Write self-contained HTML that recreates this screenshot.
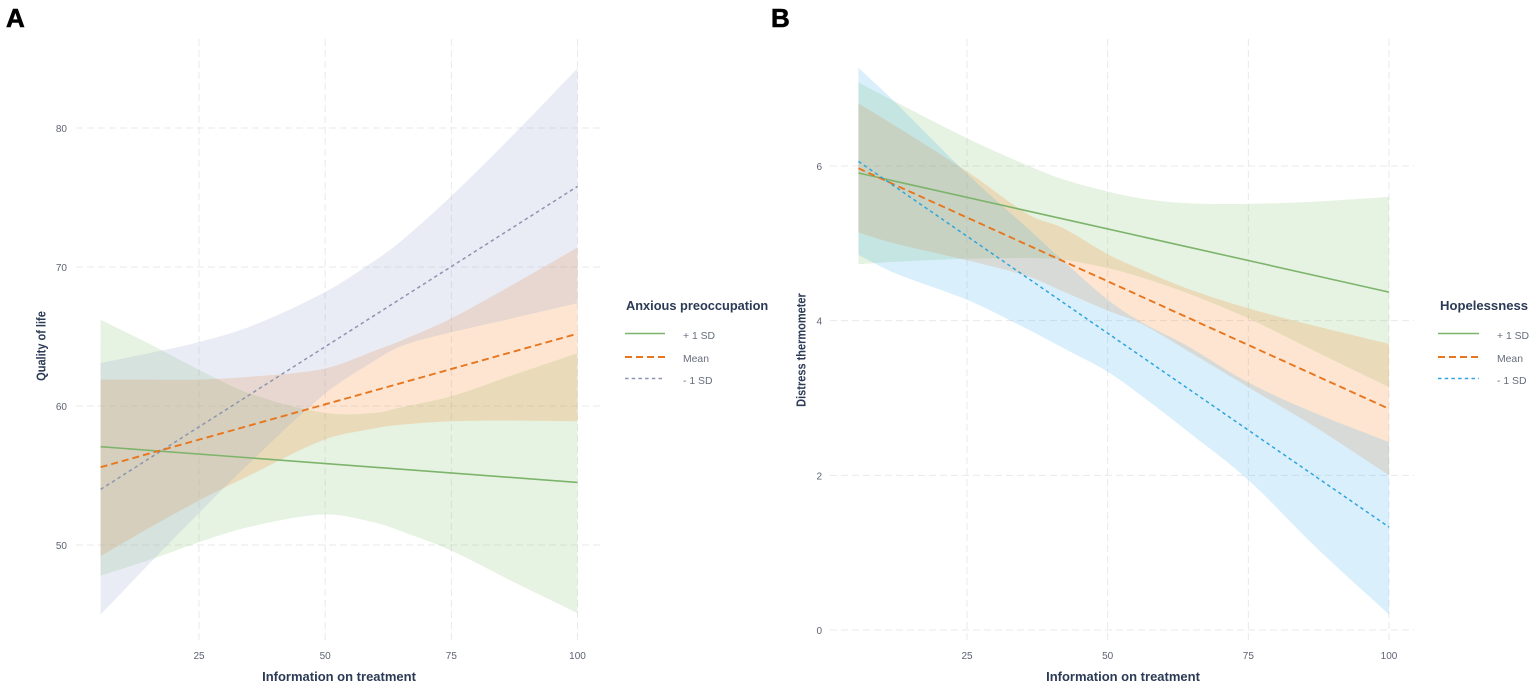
<!DOCTYPE html>
<html lang="en">
<head>
<meta charset="utf-8">
<title>Moderation plots</title>
<style>
html,body{margin:0;padding:0;background:#fff;width:1535px;height:689px;overflow:hidden}
svg{display:block;font-family:"Liberation Sans",Arial,sans-serif}
.tick{font-size:10px;fill:#5d6372}
.axt{font-size:13px;font-weight:700;fill:#2b3a55}
.axy{font-size:12.5px;font-weight:700;fill:#2b3a55}
.legt{font-size:12.8px;font-weight:700;fill:#2b3a55}
.legl{font-size:10.4px;fill:#666d7c}
.tag{font-size:26px;font-weight:700;fill:#000;stroke:#000;stroke-width:.6px}
.grid{stroke:#e9e9eb;stroke-width:1;stroke-dasharray:7 4;fill:none}
</style>
</head>
<body>
<svg id="chart" xmlns="http://www.w3.org/2000/svg" width="1535" height="689" viewBox="0 0 1535 689">
  <rect width="1535" height="689" fill="#fff"/>
  <text class="tag" x="6" y="27">A</text>
  <text class="tag" x="771" y="27">B</text>

  <g id="panelA"></g>
  <g id="panelB"></g>

  <text class="axt" x="339" y="681" text-anchor="middle">Information on treatment</text>
  <text class="axy" transform="translate(45.5 346) rotate(-90) scale(.88 1)" text-anchor="middle">Quality of life</text>
  <text class="axt" x="1123" y="681" text-anchor="middle">Information on treatment</text>
  <text class="axy" transform="translate(805.5 350) rotate(-90) scale(.88 1)" text-anchor="middle">Distress thermometer</text>

  <g>
    <text class="legt" x="626" y="310">Anxious preoccupation</text>
    <line x1="625" x2="665" y1="333.5" y2="333.5" stroke="#7db46c" stroke-width="1.6"/>
    <line x1="625" x2="665" y1="357" y2="357" stroke="#e8761e" stroke-width="1.9" stroke-dasharray="7 4"/>
    <line x1="625" x2="665" y1="378.5" y2="378.5" stroke="#8c95b0" stroke-width="1.5" stroke-dasharray="3.5 3.2"/>
    <text class="legl" x="683" y="339">+ 1 SD</text>
    <text class="legl" x="683" y="362">Mean</text>
    <text class="legl" x="683" y="384">- 1 SD</text>
  </g>
  <g>
    <text class="legt" x="1440" y="310" style="font-size:13.1px">Hopelessness</text>
    <line x1="1438" x2="1479" y1="333.5" y2="333.5" stroke="#7db46c" stroke-width="1.6"/>
    <line x1="1438" x2="1479" y1="357" y2="357" stroke="#e8761e" stroke-width="1.9" stroke-dasharray="7 4"/>
    <line x1="1438" x2="1479" y1="378.5" y2="378.5" stroke="#2fa5dc" stroke-width="1.5" stroke-dasharray="3.5 3.2"/>
    <text class="legl" x="1497" y="339">+ 1 SD</text>
    <text class="legl" x="1497" y="362">Mean</text>
    <text class="legl" x="1497" y="384">- 1 SD</text>
  </g>
</svg>

<script>
// shared x ticks
const xTicks = [25, 50, 75, 100];

// Panel A: Quality of life
const yTicksA = [50, 60, 70, 80];
const ribbonXA = [5.5, 15, 25, 35, 50, 60, 65, 75, 87, 100];
const plusUpperA = [66.2, 64.5, 62.6, 60.9, 59.5, 59.5, 59.9, 60.7, 62.2, 63.8];
const plusLowerA = [47.8, 48.9, 50.2, 51.3, 52.2, 51.6, 51.0, 49.6, 47.4, 45.1];
const meanUpperA = [61.9, 61.9, 61.9, 62.1, 62.7, 64.0, 64.7, 66.3, 68.7, 71.4];
const meanLowerA = [49.2, 51.2, 53.2, 55.0, 57.6, 58.4, 58.65, 58.9, 58.95, 58.9];
const minusUpperA = [63.1, 63.8, 64.6, 65.7, 68.2, 70.5, 71.85, 75.1, 79.4, 84.3];
const minusLowerA = [45.0, 48.6, 52.3, 55.9, 60.9, 63.3, 64.3, 65.3, 66.3, 67.4];
const lineXA = [5.5, 100];
const plusLineA = [57.07, 54.5];
const meanLineA = [55.6, 65.2];
const minusLineA = [54.0, 75.8];

// Panel B: Distress thermometer
const yTicksB = [0, 2, 4, 6];
const ribbonXB = [5.7, 12, 25, 36, 42, 50, 56, 64, 75, 87, 100];
const plusUpperB = [7.08, 6.84, 6.36, 6.0, 5.83, 5.67, 5.58, 5.52, 5.51, 5.54, 5.6];
const plusLowerB = [4.73, 4.76, 4.8, 4.81, 4.79, 4.68, 4.56, 4.36, 4.03, 3.6, 3.14];
const meanUpperB = [6.81, 6.53, 5.93, 5.37, 5.2, 4.86, 4.66, 4.42, 4.16, 3.93, 3.7];
const meanLowerB = [5.14, 5.0, 4.78, 4.57, 4.38, 4.13, 3.96, 3.62, 3.14, 2.62, 2.0];
const minusUpperB = [7.27, 6.84, 5.9, 5.18, 4.78, 4.27, 3.98, 3.68, 3.2, 2.8, 2.43];
const minusLowerB = [4.85, 4.62, 4.27, 3.88, 3.65, 3.34, 3.03, 2.58, 1.94, 1.07, 0.2];
const lineXB = [5.7, 100];
const plusLineB = [5.91, 4.37];
const meanLineB = [5.97, 2.86];
const minusLineB = [6.06, 1.33];

const NS = 'http://www.w3.org/2000/svg';

function make(tag, parent, cls) {
  const el = document.createElementNS(NS, tag);
  if (cls) el.setAttribute('class', cls);
  parent.appendChild(el);
  return el;
}

// Axis scale built from two known anchor values
function scale(v0, p0, v1, p1) {
  return function (v) { return p0 + (v - v0) * (p1 - p0) / (v1 - v0); };
}

// Cubic Hermite smoothing, x-parametrised so uneven spacing does not wobble
function smooth(pts, start) {
  const n = pts.length;
  const slope = pts.map(function (p, i) {
    const a = pts[Math.max(i - 1, 0)], b = pts[Math.min(i + 1, n - 1)];
    return (b[1] - a[1]) / (b[0] - a[0]);
  });
  let d = (start ? 'M' : 'L') + pts[0][0].toFixed(1) + ' ' + pts[0][1].toFixed(1);
  for (let i = 0; i < n - 1; i++) {
    const b = pts[i], c = pts[i + 1], dx = (c[0] - b[0]) / 3;
    d += 'C' + (b[0] + dx).toFixed(1) + ' ' + (b[1] + slope[i] * dx).toFixed(1) + ' ' +
         (c[0] - dx).toFixed(1) + ' ' + (c[1] - slope[i + 1] * dx).toFixed(1) + ' ' +
         c[0].toFixed(1) + ' ' + c[1].toFixed(1);
  }
  return d;
}

function drawRibbon(g, sx, sy, xs, upper, lower, color) {
  const up = xs.map(function (x, i) { return [sx(x), sy(upper[i])]; });
  const lo = xs.map(function (x, i) { return [sx(x), sy(lower[i])]; }).reverse();
  const p = make('path', g);
  p.setAttribute('d', smooth(up, true) + smooth(lo, false) + 'Z');
  p.setAttribute('fill', color);
  p.setAttribute('fill-opacity', '0.2');
  return p;
}

function drawLine(g, sx, sy, xs, ys, color, width, dash) {
  const l = make('path', g);
  const pts = xs.map(function (x, i) { return [sx(x), sy(ys[i])]; });
  l.setAttribute('d', 'M' + pts.map(function (q) { return q[0].toFixed(1) + ' ' + q[1].toFixed(1); }).join('L'));
  l.setAttribute('fill', 'none');
  l.setAttribute('stroke', color);
  l.setAttribute('stroke-width', width);
  if (dash) l.setAttribute('stroke-dasharray', dash);
  return l;
}

function drawAxes(g, sx, sy, yTicks, left, right, labelX) {
  const top = 39, bottom = 643;
  yTicks.forEach(function (t) {
    const gl = make('line', g, 'grid');
    
    
    gl.setAttribute('x1', left);
    gl.setAttribute('x2', right);
    gl.setAttribute('y1', sy(t));
    gl.setAttribute('y2', sy(t));
    const tx = make('text', g, 'tick');
    
    
    tx.setAttribute('x', labelX);
    tx.setAttribute('y', sy(t) + 4);
    tx.setAttribute('text-anchor', 'end');
    tx.textContent = t;
  });
  xTicks.forEach(function (t) {
    const gl = make('line', g, 'grid');
    
    
    gl.setAttribute('x1', sx(t));
    gl.setAttribute('x2', sx(t));
    gl.setAttribute('y1', top);
    gl.setAttribute('y2', bottom);
    const tx = make('text', g, 'tick');
    
    
    tx.setAttribute('x', sx(t));
    tx.setAttribute('y', 659);
    tx.setAttribute('text-anchor', 'middle');
    tx.textContent = t;
  });
}

// Panel A
(function () {
  const g = document.getElementById('panelA');
  const sx = scale(25, 199, 100, 577.5);
  const sy = scale(50, 545, 80, 128);
  drawAxes(g, sx, sy, yTicksA, 76, 601, 67);

  const r1 = drawRibbon(g, sx, sy, ribbonXA, plusUpperA, plusLowerA, '#82c26e');
  
  
  const r2 = drawRibbon(g, sx, sy, ribbonXA, meanUpperA, meanLowerA, '#f47b1a');
  
  
  const r3 = drawRibbon(g, sx, sy, ribbonXA, minusUpperA, minusLowerA, '#91a0cd');
  
  

  const l1 = drawLine(g, sx, sy, lineXA, plusLineA, '#7db46c', 1.6, '');
  
  
  const l2 = drawLine(g, sx, sy, lineXA, minusLineA, '#8c95b0', 1.5, '3.5 3.2');
  
  
  const l3 = drawLine(g, sx, sy, lineXA, meanLineA, '#e8761e', 1.9, '7 4');
  
  
})();

// Panel B
(function () {
  const g = document.getElementById('panelB');
  const sx = scale(25, 967, 100, 1389);
  const sy = scale(0, 630, 6, 166);
  drawAxes(g, sx, sy, yTicksB, 830, 1414, 822);

  const r1 = drawRibbon(g, sx, sy, ribbonXB, plusUpperB, plusLowerB, '#82c26e');
  
  
  const r2 = drawRibbon(g, sx, sy, ribbonXB, meanUpperB, meanLowerB, '#f47b1a');
  
  
  const r3 = drawRibbon(g, sx, sy, ribbonXB, minusUpperB, minusLowerB, '#41afeb');
  
  

  const l1 = drawLine(g, sx, sy, lineXB, plusLineB, '#7db46c', 1.6, '');
  
  
  const l2 = drawLine(g, sx, sy, lineXB, meanLineB, '#e8761e', 1.9, '7 4');
  
  
  const l3 = drawLine(g, sx, sy, lineXB, minusLineB, '#2fa5dc', 1.5, '3.5 3.2');
  
  
})();
</script>
</body>
</html>
